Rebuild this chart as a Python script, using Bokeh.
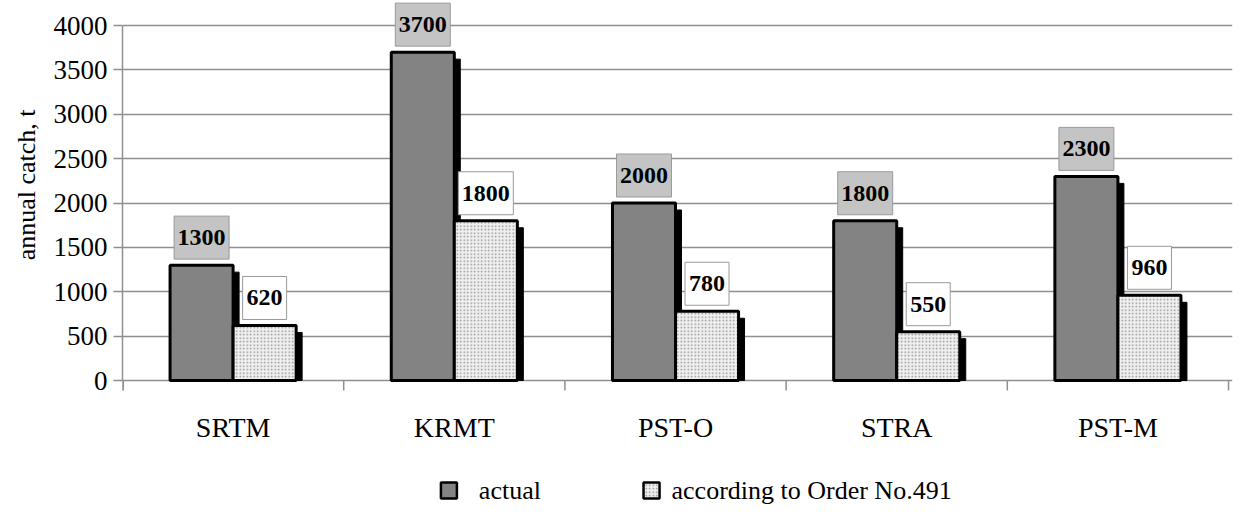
from bokeh.plotting import figure
from bokeh.models import (ColumnDataSource, FixedTicker, Range1d, Title)
from bokeh.core.properties import value
from bokeh.embed import file_html
from bokeh.resources import INLINE

categories = ["SRTM", "KRMT", "PST-O", "STRA", "PST-M"]
actual = [1300, 3700, 2000, 1800, 2300]
order491 = [620, 1800, 780, 550, 960]
y_ticks = [0, 500, 1000, 1500, 2000, 2500, 3000, 3500, 4000]
series_names = ["actual", "according to Order No.491"]
y_label = "annual catch, t"

FONT = "Liberation Serif"
GRID = "#8f8f8f"
ACT_FILL = "#838383"
ORD_FILL = "#f0f0f0"
ORD_HATCH = dict(hatch_pattern="dot", hatch_color="#939393", hatch_scale=3.5,
                 hatch_weight=1.0)

W, H = 1234, 505
LEFT, RIGHT = 120, 2
frame_w = W - LEFT - RIGHT
x_end = 5.018
px_x = frame_w / x_end          # pixels per x unit
px_y = 355 / 4000               # pixels per y unit
top_px, zero_px = 25, 380       # canvas rows of 4000 and 0
y_end = 4000 + top_px / px_y
y_start = -(H - zero_px) / px_y


def sx(canvas_x):
    return (canvas_x - LEFT) / px_x


def sy(canvas_y):
    return (zero_px - canvas_y) / px_y


bar_w = 0.285
off = 0.1425
centers = [i + 0.5 for i in range(len(categories))]
bounds = list(range(len(categories) + 1))
x_act = [c - off for c in centers]
x_ord = [c + off for c in centers]

shadow_dx = 6 / px_x
shadow_dy = 7 / px_y

p = figure(width=W, height=H, output_backend="svg", toolbar_location=None,
           x_range=Range1d(0, x_end), y_range=Range1d(y_start, y_end),
           min_border_left=LEFT, min_border_right=RIGHT,
           min_border_top=0, min_border_bottom=0)
p.outline_line_color = None
p.background_fill_color = "white"
p.xaxis.visible = False

# grid
p.xgrid.visible = False
p.ygrid.grid_line_color = GRID
p.ygrid.grid_line_width = 1.5
p.ygrid.ticker = FixedTicker(ticks=y_ticks)

# category boundary ticks below the baseline
p.segment(x0=bounds, y0=[0] * len(bounds), x1=bounds,
          y1=[-10 / px_y] * len(bounds), line_color=GRID, line_width=1.5)
p.segment(x0=[0], y0=[-10 / px_y], x1=[0], y1=[0], line_color=GRID, line_width=3)

# category labels
p.text(x=centers, y=[-31 / px_y] * len(centers), text=categories,
       text_align="center", text_baseline="top", text_font=value(FONT),
       text_font_size="28px", text_color="black")

# shadows
shadow_src = ColumnDataSource(dict(
    x=[x + shadow_dx for x in x_act] + [x + shadow_dx for x in x_ord],
    top=[v - shadow_dy for v in actual] + [v - shadow_dy for v in order491]))
p.vbar(x="x", top="top", bottom=0, width=bar_w, source=shadow_src,
       fill_color="black", line_color="black")

src_a = ColumnDataSource(dict(x=x_act, top=actual, cat=categories))
src_o = ColumnDataSource(dict(x=x_ord, top=order491, cat=categories))
p.vbar(x="x", top="top", bottom=0, width=bar_w, source=src_a,
       fill_color=ACT_FILL, line_color="black", line_width=3)
p.vbar(x="x", top="top", bottom=0, width=bar_w, source=src_o,
       fill_color=ORD_FILL, line_color="black", line_width=3, **ORD_HATCH)


# value boxes
def boxes(xs, vals, fill):
    labels = [str(v) for v in vals]
    widths = [11 * len(s) + 11 for s in labels]
    ys = [v + (6 + 21.5) / px_y for v in vals]
    s = ColumnDataSource(dict(x=xs, y=ys, w=widths, t=labels))
    p.rect(x="x", y="y", width="w", height=43, width_units="screen",
           height_units="screen", source=s, fill_color=fill,
           line_color="#9a9a9a", line_width=1)
    p.text(x="x", y="y", text="t", source=s, text_align="center",
           text_baseline="middle", text_font=value(FONT),
           text_font_style="bold", text_font_size="24px", text_color="black")


boxes(x_act, actual, "#c4c4c4")
boxes(x_ord, order491, "white")

ya = p.yaxis[0]
ya.ticker = FixedTicker(ticks=y_ticks)
ya.bounds = (0, 4000)
ya.major_tick_out = 9
ya.major_tick_in = 0
ya.major_tick_line_color = GRID
ya.major_tick_line_width = 1.5
ya.minor_tick_line_color = None
ya.axis_line_color = GRID
ya.axis_line_width = 1.5
ya.major_label_standoff = 6
ya.major_label_text_font = FONT
ya.major_label_text_font_size = "27px"
ya.major_label_text_color = "black"

ttl = Title(text=y_label, align="right", offset=109, standoff=19,
            text_font=FONT, text_font_size="26px", text_font_style="normal",
            text_color="black")
p.add_layout(ttl, "left")

# legend (key squares + labels)
leg_y = sy(490)
p.rect(x=[sx(447)], y=[leg_y], width=16, height=16, width_units="screen",
       height_units="screen", fill_color=ACT_FILL, line_color="black",
       line_width=2.5)
p.rect(x=[sx(650)], y=[leg_y], width=16, height=16, width_units="screen",
       height_units="screen", fill_color=ORD_FILL, line_color="black",
       line_width=2.5, **ORD_HATCH)
p.text(x=[sx(477), sx(670)], y=[leg_y, leg_y], text=series_names,
       text_align="left", text_baseline="middle", text_font=value(FONT),
       text_font_size="26px", text_color="black")

open("out.html", "w").write(file_html(p, INLINE))
